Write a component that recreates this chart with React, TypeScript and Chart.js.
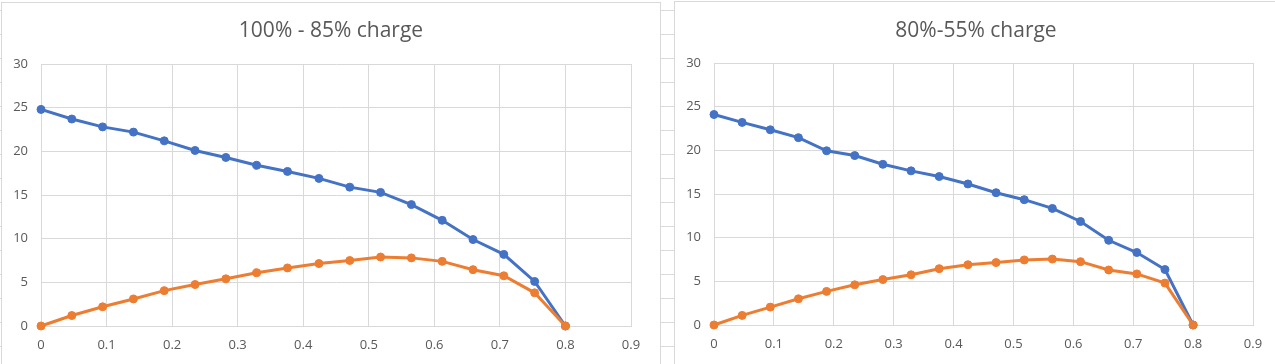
import React, { useEffect, useRef } from "react";
import { Chart, registerables } from "chart.js";

Chart.register(...registerables);

const xValues = [0, 0.047, 0.094, 0.141, 0.188, 0.235, 0.282, 0.329, 0.376, 0.424, 0.471, 0.518, 0.565, 0.612, 0.659, 0.706, 0.753, 0.8];
const chart1Blue = [24.8, 23.7, 22.8, 22.2, 21.2, 20.1, 19.3, 18.4, 17.7, 16.9, 15.9, 15.3, 13.9, 12.1, 9.9, 8.2, 5.1, 0];
const chart1Orange = [0, 1.2, 2.2, 3.1, 4.05, 4.75, 5.4, 6.1, 6.65, 7.15, 7.5, 7.9, 7.8, 7.4, 6.45, 5.75, 3.8, 0];
const chart2Blue = [24.1, 23.2, 22.35, 21.45, 19.95, 19.4, 18.4, 17.65, 17.0, 16.15, 15.15, 14.35, 13.35, 11.85, 9.7, 8.3, 6.35, 0];
const chart2Orange = [0, 1.1, 2.05, 3.0, 3.85, 4.6, 5.2, 5.75, 6.45, 6.9, 7.15, 7.45, 7.55, 7.25, 6.3, 5.85, 4.8, 0];
const xTickLabels = ["0", "0.1", "0.2", "0.3", "0.4", "0.5", "0.6", "0.7", "0.8", "0.9"];
const yTickLabels = ["0", "5", "10", "15", "20", "25", "30"];
const chart1Title = "100% - 85% charge";
const chart2Title = "80%-55% charge";

const BLUE = "#4472C4";
const ORANGE = "#ED7D31";
const GRID = "#D9D9D9";
const TEXT = "#595959";
const FONT = "'Open Sans', 'DejaVu Sans', sans-serif";

type PanelProps = {
  blue: number[];
  orange: number[];
  width: number;
  height: number;
  padRight: number;
  padTop: number;
  xAxisHeight: number;
};

function ScatterPanel({ blue, orange, width, height, padRight, padTop, xAxisHeight }: PanelProps) {
  const ref = useRef<HTMLCanvasElement | null>(null);
  useEffect(() => {
    if (!ref.current) return;
    const mk = (ys: number[]) => xValues.map((x, i) => ({ x, y: ys[i] }));
    const chart = new Chart(ref.current, {
      type: "scatter",
      data: {
        datasets: [
          {
            label: "blue",
            data: mk(blue),
            showLine: true,
            borderColor: BLUE,
            backgroundColor: BLUE,
            borderWidth: 3,
            pointRadius: 4,
            pointBorderWidth: 1,
            pointBorderColor: BLUE,
            clip: false,
            order: 1,
          },
          {
            label: "orange",
            data: mk(orange),
            showLine: true,
            borderColor: ORANGE,
            backgroundColor: ORANGE,
            borderWidth: 3,
            pointRadius: 4,
            pointBorderWidth: 1,
            pointBorderColor: ORANGE,
            clip: false,
            order: 0,
          },
        ],
      },
      options: {
        responsive: false,
        animation: false,
        devicePixelRatio: 1,
        layout: { padding: { top: padTop, right: padRight, left: 0, bottom: 0 } },
        plugins: { legend: { display: false }, tooltip: { enabled: false }, title: { display: false } },
        scales: {
          x: {
            type: "linear",
            min: 0,
            max: 0.9,
            ticks: {
              stepSize: 0.1,
              padding: 11,
              color: TEXT,
              font: { family: FONT, size: 13 },
              maxRotation: 0,
              callback: (_v: any, i: number) => xTickLabels[i],
            },
            grid: { color: GRID, lineWidth: 1, drawTicks: false },
            border: { display: true, color: GRID, width: 1 },
            afterFit: (s: any) => {
              s.height = xAxisHeight;
            },
          },
          y: {
            type: "linear",
            min: 0,
            max: 30,
            ticks: {
              stepSize: 5,
              padding: 13,
              color: TEXT,
              font: { family: FONT, size: 13 },
              callback: (_v: any, i: number) => yTickLabels[i],
            },
            grid: { color: GRID, lineWidth: 1, drawTicks: false },
            border: { display: true, color: GRID, width: 1 },
            afterFit: (s: any) => {
              s.width = 39;
            },
          },
        },
      },
    } as any);
    return () => chart.destroy();
  }, []);
  return <canvas ref={ref} width={width} height={height} style={{ display: "block", width, height }} />;
}

export default function App() {
  const titleStyle: React.CSSProperties = {
    position: "absolute",
    top: 17,
    fontFamily: FONT,
    fontSize: 21,
    lineHeight: "25px",
    color: TEXT,
    textAlign: "center",
    whiteSpace: "nowrap",
  };
  return (
    <div
      style={{
        position: "fixed",
        left: 0,
        top: 0,
        width: 1275,
        height: 364,
        overflow: "hidden",
        backgroundColor: "#FFFFFF",
        backgroundImage: "linear-gradient(to bottom, #DADADA 0px, #DADADA 1px, transparent 1px)",
        backgroundSize: "100% 24px",
        backgroundPosition: "0 10px",
      }}
    >
      <div
        style={{
          position: "absolute",
          left: 1,
          top: 2,
          width: 660,
          height: 420,
          boxSizing: "border-box",
          border: `1px solid ${GRID}`,
          background: "#FFFFFF",
        }}
      >
        <ScatterPanel blue={chart1Blue} orange={chart1Orange} width={658} height={361} padRight={29} padTop={61} xAxisHeight={38} />
      </div>
      <div style={{ ...titleStyle, left: 1, width: 660 }}>{chart1Title}</div>
      <div
        style={{
          position: "absolute",
          left: 674,
          top: 1,
          width: 700,
          height: 420,
          boxSizing: "border-box",
          border: `1px solid ${GRID}`,
          background: "#FFFFFF",
        }}
      >
        <ScatterPanel blue={chart2Blue} orange={chart2Orange} width={600} height={362} padRight={22} padTop={61} xAxisHeight={39} />
      </div>
      <div style={{ ...titleStyle, left: 674, width: 604 }}>{chart2Title}</div>
    </div>
  );
}
